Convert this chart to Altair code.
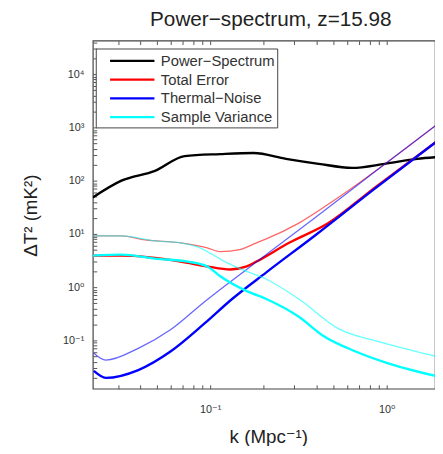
import altair as alt
import pandas as pd

# ---------------- data ----------------
series_names = ["Power−Spectrum", "Total Error", "Thermal−Noise", "Sample Variance"]
series_colors = ["#000000", "#ff0000", "#0000ff", "#00ffff"]

ps_k = [0.0216, 0.0314, 0.0486, 0.0716, 0.114, 0.176, 0.269, 0.412, 0.637, 0.975, 1.49, 1.93]
ps_p = [48.4, 100, 153, 290, 316, 331, 257, 207, 174, 207, 257, 277]

te_thin_k = [0.0216, 0.0314, 0.0428, 0.0680, 0.0962, 0.114, 0.147, 0.183, 0.208, 0.318, 0.532, 1.93]
te_thin_p = [9.18, 9.18, 7.74, 6.81, 5.50, 4.64, 5.06, 6.81, 8.08, 16.0, 48.4, 1137]
te_thick_k = [0.0216, 0.0314, 0.0680, 0.0962, 0.130, 0.161, 0.183, 0.280, 0.468, 0.857, 1.93]
te_thick_p = [3.91, 3.91, 3.03, 2.45, 2.15, 2.45, 3.03, 6.81, 16.0, 74.1, 551]

tn_thin_k = [0.0219, 0.0256, 0.0391, 0.0598, 0.0925, 0.208, 0.396, 0.857, 1.93]
tn_thin_p = [0.0574, 0.0427, 0.0711, 0.160, 0.528, 4.09, 20.6, 147, 1137]
tn_thick_k = [0.0219, 0.0256, 0.0391, 0.0598, 0.0925, 0.133, 0.208, 0.396, 0.857, 1.93]
tn_thick_p = [0.0267, 0.0198, 0.0278, 0.0626, 0.206, 0.600, 1.90, 9.57, 71.1, 551]

sv_thin_k = [0.0216, 0.0314, 0.0486, 0.0680, 0.0846, 0.124, 0.161, 0.208, 0.318, 0.532, 0.891, 1.38, 1.90]
sv_thin_p = [9.18, 9.18, 7.41, 6.81, 5.74, 2.90, 1.98, 1.41, 0.600, 0.167, 0.0958, 0.0653, 0.0506]
sv_thick_k = [0.0216, 0.0314, 0.0486, 0.0744, 0.0962, 0.114, 0.161, 0.208, 0.318, 0.434, 0.662, 1.01, 1.90]
sv_thick_p = [3.91, 4.09, 3.44, 3.03, 2.45, 1.60, 0.843, 0.600, 0.278, 0.124, 0.0626, 0.0375, 0.0215]

x_domain = [0.0216, 1.88]
y_domain = [0.01239, 42700]

x_tick_vals = [0.1, 1]
x_tick_labels = ["10⁻¹", "10⁰"]
y_tick_vals = [0.1, 1, 10, 100, 1000, 10000]
y_tick_labels = ["10⁻¹", "10⁰", "10¹", "10²", "10³", "10⁴"]

# ---------------- build table ----------------
rows = []
def add(name, variant, ks, ps):
    for k, p in zip(ks, ps):
        rows.append({"k": k, "P": p, "series": name, "variant": variant,
                     "line": name + "-" + variant})

add(series_names[0], "thick", ps_k, ps_p)
add(series_names[1], "thin", te_thin_k, te_thin_p)
add(series_names[1], "thick", te_thick_k, te_thick_p)
add(series_names[2], "thin", tn_thin_k, tn_thin_p)
add(series_names[2], "thick", tn_thick_k, tn_thick_p)
add(series_names[3], "thin", sv_thin_k, sv_thin_p)
add(series_names[3], "thick", sv_thick_k, sv_thick_p)
df = pd.DataFrame(rows)

# ---------------- axes helpers ----------------
def minor_vals(lo, hi):
    out = []
    for e in range(-3, 6):
        for m in range(1, 10):
            v = m * 10 ** e
            if lo <= v <= hi:
                out.append(round(v, 10))
    return out

def label_expr(vals, labels):
    expr = "''"
    for v, l in reversed(list(zip(vals, labels))):
        expr = f"abs(datum.value/{v} - 1) < 1e-6 ? '{l}' : ({expr})"
    return expr

FONT = "Liberation Sans, Arial, DejaVu Sans"

x_scale = alt.Scale(type="log", domain=x_domain, nice=False)
y_scale = alt.Scale(type="log", domain=y_domain, nice=False)

x_axis = alt.Axis(
    values=minor_vals(*x_domain), labelExpr=label_expr(x_tick_vals, x_tick_labels),
    offset=-4, tickSize=4, tickColor="#555", domain=False, grid=False,
    labelPadding=15, labelFontSize=11, labelFont=FONT, labelColor="#333",
    labelBaseline="top", labelFlush=False, labelOverlap=False,
    title="k (Mpc⁻¹)", titleFont=FONT, titleFontSize=19, titleFontWeight="normal",
    titleColor="#222", titleX=178, titleY=53, titleBaseline="middle",
    titleAlign="center",
)
y_axis = alt.Axis(
    values=minor_vals(*y_domain), labelExpr=label_expr(y_tick_vals, y_tick_labels),
    offset=-4, tickSize=4, tickColor="#555", domain=False, grid=False,
    labelPadding=9, labelFontSize=11, labelFont=FONT, labelColor="#333",
    labelFlush=False, labelOverlap=False,
    title="ΔT² (mK²)", titleFont=FONT, titleFontSize=19, titleFontWeight="normal",
    titleColor="#222", titleX=-67, titleY=177, titleBaseline="middle",
    titleAlign="center", titleAngle=270,
)
x_top_axis = alt.Axis(
    orient="top", values=minor_vals(*x_domain), labels=False, title=None,
    offset=-4, tickSize=4, tickColor="#555", domain=False, grid=False,
)

lines = alt.Chart(df).mark_line(interpolate="monotone", clip=True).encode(
    x=alt.X("k:Q", scale=x_scale, axis=x_axis),
    y=alt.Y("P:Q", scale=y_scale, axis=y_axis),
    color=alt.Color(
        "series:N",
        scale=alt.Scale(domain=series_names, range=series_colors),
        sort=series_names,
        legend=alt.Legend(
            title=None, orient="none", legendX=3, legendY=8,
            symbolType="M0.222,0H5.222", symbolSize=324, symbolStrokeWidth=2.2,
            symbolFillColor="transparent",
            labelFont=FONT, labelFontSize=15, labelColor="#333", labelOffset=43,
            rowPadding=0, padding=2, strokeColor="#444", fillColor="white",
            symbolOpacity=1,
        ),
    ),
    strokeWidth=alt.StrokeWidth("variant:N", scale=alt.Scale(domain=["thin", "thick"], range=[1.3, 2.4]), legend=None),
    opacity=alt.Opacity("variant:N", scale=alt.Scale(domain=["thin", "thick"], range=[0.6, 1.0]), legend=None),
    detail="line:N",
)

top = alt.Chart(df).mark_point(opacity=0).encode(
    x=alt.X("k:Q", scale=x_scale, axis=x_top_axis),
    y=alt.Y("P:Q", scale=y_scale, axis=None),
)

chart = alt.layer(lines, top).resolve_axis(x="independent", y="independent").properties(
    width=347, height=353,
    title=alt.Title("Power−spectrum, z=15.98", font=FONT, fontSize=21, fontWeight="normal",
                    color="#222", anchor="middle", frame="group", dx=7, offset=6),
    autosize=alt.AutoSizeParams(type="none"),
    padding={"left": 86, "top": 30, "right": 0, "bottom": 55},
).configure_view(stroke="#444", strokeWidth=1.2)

chart.save("out.html", embed_options={"renderer": "svg", "actions": False})
